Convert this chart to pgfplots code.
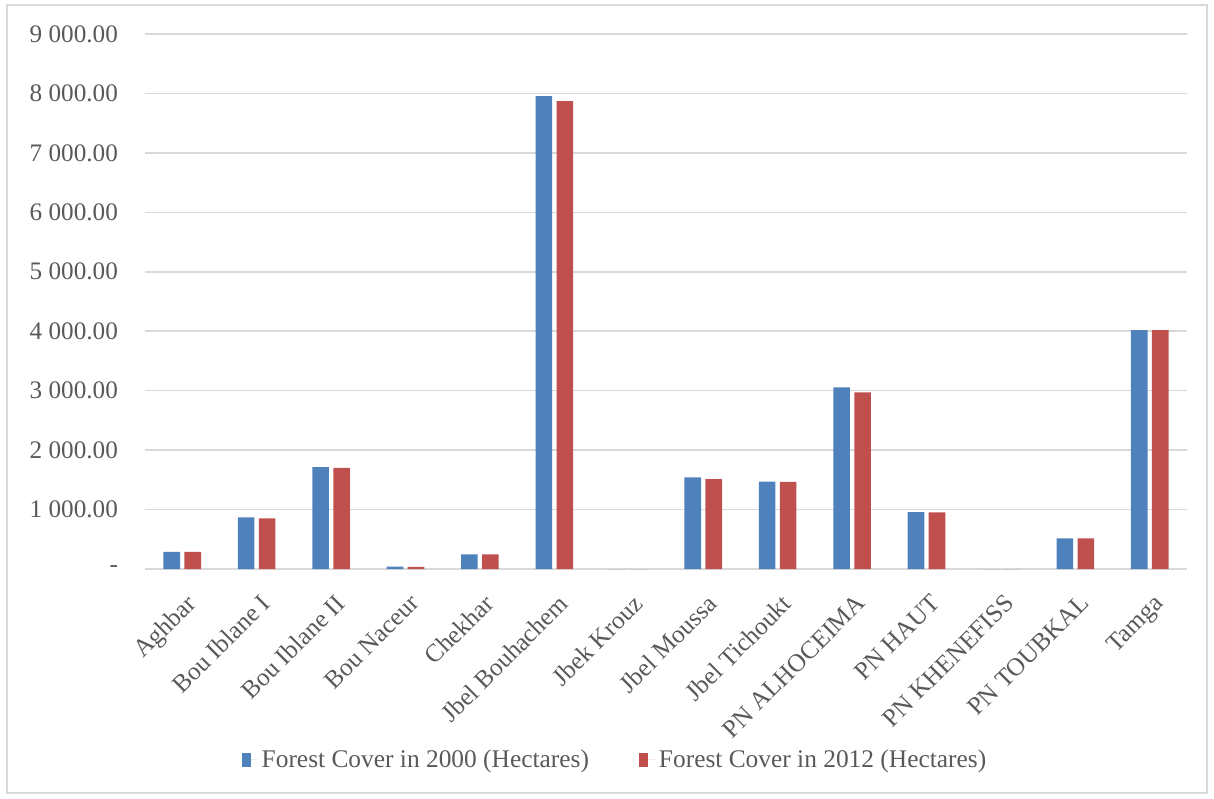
\documentclass[border=0pt]{standalone}
\usepackage{pgfplots}
\pgfplotsset{compat=1.18}
\usepackage{fontspec}
\setmainfont{Liberation Serif}
\definecolor{cblue}{HTML}{4F81BD}
\definecolor{cred}{HTML}{C0504D}
\definecolor{cgrid}{HTML}{D9D9D9}
\definecolor{ctext}{HTML}{595959}
\pgfplotstableread{
x y2000 y2012
0 290 288
1 870 853
2 1716 1700
3 40 35
4 247 245
5 7955 7871
6 0 0
7 1543 1514
8 1469 1464
9 3057 2973
10 959 953
11 0 0
12 516 516
13 4017 4017
}\forestdata
\begin{document}
\begin{tikzpicture}
\path (-72.5pt,-114.5pt) rectangle (534.5pt,284.5pt);
\draw[cgrid, line width=0.7pt] (-69pt,-112pt) rectangle (531pt,282pt);
\begin{axis}[
  at={(0pt,0pt)}, anchor=south west,
  scale only axis, width=521pt, height=267.5pt,
  ybar=2.2pt, bar width=8.3pt,
  xmin=-0.5, xmax=13.5, ymin=0, ymax=9000,
  axis line style={draw=none},
  major tick length=0pt,
  ymajorgrids, grid style={cgrid, line width=0.75pt},
  xtick={0,...,13},
  xticklabels={Aghbar,Bou Iblane I,Bou Iblane II,Bou Naceur,Chekhar,Jbel Bouhachem,Jbek Krouz,Jbel Moussa,Jbel Tichoukt,PN ALHOCEIMA,PN HAUT,PN KHENEFISS,PN TOUBKAL,Tamga},
  ytick={0,1000,...,9000},
  yticklabels={{-\hspace{6pt}},1 000.00,2 000.00,3 000.00,4 000.00,5 000.00,6 000.00,7 000.00,8 000.00,9 000.00},
  tick label style={font=\fontsize{12.6}{14}\selectfont, text=ctext},
  yticklabel style={anchor=east, xshift=-10pt},
  xticklabel style={rotate=45, anchor=north east, yshift=-6pt, xshift=-4pt},
  legend columns=2,
  legend style={at={(0.452,-0.357)}, anchor=center, draw=none, fill=none,
    font=\fontsize{12.7}{14}\selectfont, text=ctext,
    /tikz/every even column/.append style={column sep=23pt}},
  legend cell align=left,
]
\addplot[fill=cblue, draw=none,
  legend image code/.code={\fill[cblue] (0pt,-3.3pt) rectangle (4.6pt,3.3pt); \path (0pt,0pt) -- (8pt,0pt);}]
  table[x=x, y=y2000] {\forestdata};
\addlegendentry{Forest Cover in 2000 (Hectares)}
\addplot[fill=cred, draw=none,
  legend image code/.code={\fill[cred] (0pt,-3.3pt) rectangle (4.6pt,3.3pt); \path (0pt,0pt) -- (8pt,0pt);}]
  table[x=x, y=y2012] {\forestdata};
\addlegendentry{Forest Cover in 2012 (Hectares)}
\end{axis}
\end{tikzpicture}
\end{document}
